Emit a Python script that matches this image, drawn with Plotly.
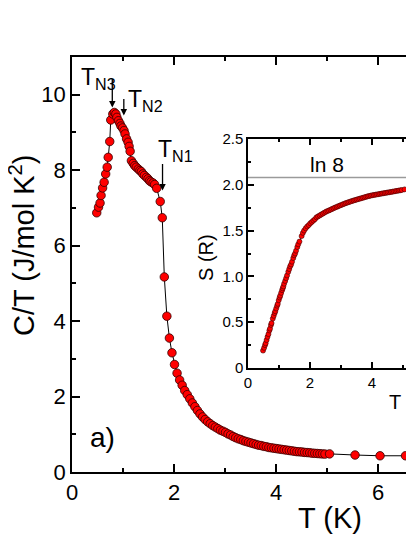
import plotly.graph_objects as go

# ---------------- data ----------------
T_main = [0.485, 0.52, 0.55, 0.57, 0.60, 0.63, 0.66, 0.69, 0.71, 0.74, 0.76, 0.80, 0.83, 0.86,
          0.88, 0.91, 0.94, 0.96, 0.99, 1.02, 1.04, 1.07, 1.10, 1.12, 1.14, 1.165, 1.20, 1.23,
          1.26, 1.30, 1.33, 1.36, 1.39, 1.42, 1.46, 1.49, 1.52, 1.55, 1.59, 1.62, 1.66, 1.73,
          1.77, 1.81, 1.86, 1.91, 1.96, 2.01, 2.06, 2.11, 2.16, 2.21, 2.26, 2.31, 2.36, 2.41,
          2.46, 2.51, 2.56, 2.61, 2.66, 2.71, 2.76, 2.81, 2.86, 2.91, 2.96, 3.01, 3.06, 3.11,
          3.16, 3.21, 3.26, 3.31, 3.36, 3.41, 3.46, 3.51, 3.56, 3.61, 3.66, 3.71, 3.76, 3.81,
          3.86, 3.91, 3.96, 4.01, 4.06, 4.11, 4.16, 4.21, 4.26, 4.31, 4.36, 4.41, 4.46, 4.51,
          4.56, 4.61, 4.66, 4.71, 4.76, 4.81, 4.86, 4.91, 4.96, 5.05]
CT_main = [6.87, 7.02, 7.13, 7.33, 7.53, 7.68, 7.90, 8.08, 8.34, 8.76, 9.33, 9.49, 9.53, 9.49,
           9.40, 9.31, 9.24, 9.17, 9.12, 9.05, 8.96, 8.83, 8.74, 8.63, 8.50, 8.25, 8.18, 8.12,
           8.08, 8.03, 7.99, 7.96, 7.90, 7.86, 7.81, 7.77, 7.72, 7.69, 7.66, 7.62, 7.52, 7.17,
           6.74, 5.17, 4.13, 3.55, 3.16, 2.85, 2.62, 2.44, 2.30, 2.16, 2.05, 1.94, 1.83, 1.73,
           1.63, 1.54, 1.46, 1.39, 1.33, 1.28, 1.23, 1.19, 1.15, 1.11, 1.08, 1.05, 1.01, 0.98,
           0.94, 0.91, 0.88, 0.86, 0.83, 0.81, 0.79, 0.77, 0.75, 0.73, 0.71, 0.70, 0.68, 0.67,
           0.65, 0.64, 0.63, 0.62, 0.61, 0.60, 0.59, 0.58, 0.57, 0.56, 0.55, 0.54, 0.535, 0.53,
           0.52, 0.515, 0.51, 0.50, 0.495, 0.49, 0.485, 0.48, 0.475, 0.48]
# sparse high-temperature points
T_high = [5.55, 6.04, 6.54, 7.04]
CT_high = [0.45, 0.43, 0.43, 0.42]

# entropy (inset), same temperature grid
S_inset = [0.19, 0.22, 0.25, 0.27, 0.305, 0.34, 0.37, 0.41, 0.43, 0.47, 0.49, 0.54, 0.57, 0.60,
           0.62, 0.65, 0.68, 0.70, 0.74, 0.77, 0.79, 0.82, 0.85, 0.87, 0.89, 0.92, 0.95, 0.98,
           1.01, 1.05, 1.08, 1.11, 1.13, 1.16, 1.20, 1.23, 1.25, 1.28, 1.32, 1.35, 1.38, 1.44,
           1.475, 1.50, 1.525, 1.545, 1.56, 1.58, 1.595, 1.61, 1.625, 1.645, 1.655, 1.665, 1.675, 1.685,
           1.695, 1.705, 1.713, 1.72, 1.728, 1.736, 1.744, 1.752, 1.759, 1.766, 1.773, 1.78, 1.787, 1.794,
           1.80, 1.806, 1.812, 1.818, 1.824, 1.829, 1.834, 1.839, 1.844, 1.849, 1.854, 1.859, 1.864, 1.869,
           1.874, 1.878, 1.882, 1.886, 1.889, 1.892, 1.895, 1.898, 1.901, 1.904, 1.907, 1.910, 1.913, 1.916,
           1.919, 1.922, 1.925, 1.928, 1.931, 1.934, 1.937, 1.940, 1.943, 1.95]
T_S_tail = [5.05, 5.55, 6.05]
S_tail = [1.95, 1.985, 2.01]

LN8 = 2.079
TN_labels = ["T<sub>N1</sub>", "T<sub>N2</sub>", "T<sub>N3</sub>"]
TN_values = [1.775, 1.016, 0.79]
TN_tip = [7.46, 9.45, 9.66]

main_xticks = [0, 2, 4, 6]
main_yticks = [0, 2, 4, 6, 8, 10]
inset_xticks = [0, 2, 4]
inset_yticks = [0, 0.5, 1.0, 1.5, 2.0, 2.5]
inset_yticktext = ["0", "0.5", "1.0", "1.5", "2.0", "2.5"]

# ---------------- layout helpers ----------------
OFF = 8                      # page body margin
W, H = 414 - OFF, 535 - OFF
L, R, TOP, BOT = 72 - OFF, 0, 57 - OFF, 63
PW, PH = W - L - R, H - TOP - BOT
FONT = "Arial, Liberation Sans, sans-serif"


def px(x):
    """reference-window pixel x -> paper coordinate"""
    return (x - OFF - L) / PW


def py(y):
    """reference-window pixel y -> paper coordinate"""
    return (H - BOT - (y - OFF)) / PH


fig = go.Figure()

# main curve
fig.add_trace(go.Scatter(x=T_main + T_high, y=CT_main + CT_high, mode="lines",
                         line=dict(color="black", width=1), showlegend=False,
                         xaxis="x", yaxis="y", hoverinfo="skip"))
fig.add_trace(go.Scatter(x=T_main + T_high, y=CT_main + CT_high, mode="markers",
                         marker=dict(color="#ff0000", size=8.5,
                                     line=dict(color="#300000", width=0.8)),
                         showlegend=False, xaxis="x", yaxis="y"))

# inset
fig.add_trace(go.Scatter(x=T_main + T_S_tail, y=S_inset + S_tail, mode="lines",
                         line=dict(color="black", width=1), showlegend=False,
                         xaxis="x2", yaxis="y2", hoverinfo="skip"))
fig.add_trace(go.Scatter(x=T_main, y=S_inset, mode="markers",
                         marker=dict(color="#ff0000", size=5,
                                     line=dict(color="#400000", width=0.6)),
                         showlegend=False, xaxis="x2", yaxis="y2"))

axis_common = dict(showline=True, linecolor="black", linewidth=1.5, showgrid=False,
                   zeroline=False, ticks="inside", tickcolor="black", tickwidth=1.5)

fig.update_layout(
    width=W, height=H,
    margin=dict(l=L, r=R, t=TOP, b=BOT, autoexpand=False),
    paper_bgcolor="white", plot_bgcolor="white",
    font=dict(family=FONT, color="black"),
    xaxis=dict(axis_common, domain=[0, 1], range=[0, PW / 51.0], tickvals=main_xticks,
               ticklen=8, mirror="ticks", tickfont=dict(size=22),
               minor=dict(dtick=1, ticklen=4, ticks="inside", tickcolor="black", tickwidth=1.5),
               anchor="y"),
    yaxis=dict(axis_common, domain=[0, 1], range=[0, 11], tickvals=main_yticks,
               ticklen=8, mirror=False, tickfont=dict(size=22),
               minor=dict(dtick=1, ticklen=4, ticks="inside", tickcolor="black", tickwidth=1.5),
               anchor="x"),
    xaxis2=dict(axis_common, domain=[px(248), 1], range=[0, (414 - 248) / 31.0],
                tickvals=inset_xticks, ticklen=6, mirror="ticks", tickfont=dict(size=15),
                minor=dict(dtick=1, ticklen=3.5, ticks="inside", tickcolor="black", tickwidth=1.5),
                anchor="y2"),
    yaxis2=dict(axis_common, domain=[py(368), py(139)], range=[0, 2.5],
                tickvals=inset_yticks, ticktext=inset_yticktext, ticklen=6, mirror=False,
                tickfont=dict(size=15),
                minor=dict(dtick=0.25, ticklen=3.5, ticks="inside", tickcolor="black", tickwidth=1.5),
                anchor="x2"),
)

# white background for inset
fig.add_shape(type="rect", xref="x2 domain", yref="y2 domain", x0=0, x1=1, y0=0, y1=1,
              fillcolor="white", line=dict(width=0), layer="below")
# ln 8 line
fig.add_shape(type="line", xref="x2 domain", yref="y2", x0=0, x1=1, y0=LN8, y1=LN8,
              line=dict(color="#9a9a9a", width=1.5))

ann = []
# axis titles
ann.append(dict(text="T (K)", xref="paper", yref="paper", x=px(330), y=py(518),
                xanchor="center", yanchor="middle", showarrow=False, font=dict(size=29)))
ann.append(dict(text="C/T (J/mol K<sup>2</sup>)", xref="paper", yref="paper", x=px(22), y=py(245),
                xanchor="center", yanchor="middle", textangle=-90, showarrow=False,
                font=dict(size=29)))
ann.append(dict(text="a)", xref="paper", yref="paper", x=px(102), y=py(437),
                xanchor="center", yanchor="middle", showarrow=False, font=dict(size=28)))
# inset titles
ann.append(dict(text="S (R)", xref="paper", yref="paper", x=px(206), y=py(258),
                xanchor="center", yanchor="middle", textangle=-90, showarrow=False,
                font=dict(size=20)))
ann.append(dict(text="T (K)", xref="paper", yref="paper", x=px(387), y=py(402),
                xanchor="left", yanchor="middle", showarrow=False, font=dict(size=20)))
ann.append(dict(text="ln 8", xref="paper", yref="paper", x=px(327), y=py(164),
                xanchor="center", yanchor="middle", showarrow=False, font=dict(size=21)))

# transition arrows and labels
arrow_len = [28, 18, 30]
label_pos = [(156, 150), (126, 100), (79, 78)]
for lab, tv, tip, alen, (lx, ly) in zip(TN_labels, TN_values, TN_tip, arrow_len, label_pos):
    ann.append(dict(text="", x=tv, y=tip, xref="x", yref="y", showarrow=True,
                    ax=0, ay=-alen, arrowhead=2, arrowsize=1, arrowwidth=1.3,
                    arrowcolor="black"))
    ann.append(dict(text=lab, xref="paper", yref="paper", x=px(lx), y=py(ly),
                    xanchor="left", yanchor="middle", showarrow=False, font=dict(size=23)))

fig.update_layout(annotations=ann)

fig.write_html("out.html")
